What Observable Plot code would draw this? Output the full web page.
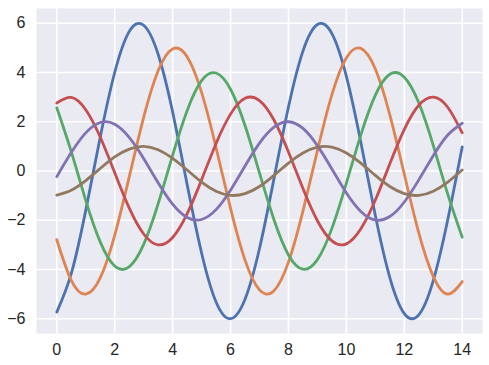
<!DOCTYPE html>
<html>
<head>
<meta charset="utf-8">
<script src="https://cdn.jsdelivr.net/npm/d3@7"></script>
<script src="https://cdn.jsdelivr.net/npm/@observablehq/plot@0.6"></script>
<style>
  html, body { margin: 0; padding: 0; background: #ffffff; }
  #chart { width: 489px; height: 365px; }
</style>
</head>
<body>
<div id="chart"></div>
<script>
const xs = [0,0.5,1,1.5,2,2.5,3,3.5,4,4.5,5,5.5,6,6.5,7,7.5,8,8.5,9,9.5,10,10.5,11,11.5,12,12.5,13,13.5,14];
const blue   = [-5.73,-4.17,-1.60,1.37,4.00,5.66,5.92,4.74,2.40,-0.54,-3.33,-5.32,-6.00,-5.21,-3.15,-0.31,2.60,4.87,5.95,5.58,3.84,1.16,-1.81,-4.33,-5.79,-5.84,-4.45,-1.98,0.98];
const orange = [-2.79,-4.44,-5.00,-4.34,-2.61,-0.25,2.18,4.07,4.96,4.64,3.19,0.95,-1.52,-3.62,-4.83,-4.86,-3.70,-1.63,0.83,3.10,4.60,4.98,4.14,2.28,-0.13,-2.51,-4.28,-5.00,-4.49];
const green  = [2.57,0.79,-1.19,-2.88,-3.86,-3.89,-2.98,-1.33,0.64,2.45,3.67,3.98,3.32,1.85,-0.08,-1.98,-3.41,-3.99,-3.60,-2.33,-0.49,1.47,3.08,3.93,3.81,2.77,1.04,-0.94,-2.69];
const red    = [2.76,2.99,2.49,1.38,-0.07,-1.50,-2.56,-3.00,-2.70,-1.74,-0.36,1.12,2.31,2.95,2.86,2.07,0.77,-0.71,-2.02,-2.84,-2.96,-2.35,-1.18,0.29,1.69,2.67,3.00,2.59,1.55];
const purple = [-0.23,0.75,1.55,1.97,1.90,1.37,0.51,-0.48,-1.35,-1.89,-1.97,-1.57,-0.78,0.20,1.13,1.78,2.00,1.73,1.03,0.08,-0.89,-1.64,-1.99,-1.85,-1.26,-0.36,0.62,1.46,1.94];
const brown  = [-0.98,-0.78,-0.39,0.10,0.57,0.89,1.00,0.86,0.51,0.04,-0.45,-0.82,-0.99,-0.92,-0.63,-0.18,0.32,0.73,0.97,0.97,0.73,0.32,-0.18,-0.63,-0.92,-0.99,-0.82,-0.45,0.04];

const seriesNames = ["s1","s2","s3","s4","s5","s6"];
const seriesValues = [blue, orange, green, red, purple, brown];
const seriesColors = ["#4C72B0","#DD8452","#55A868","#C44E52","#8172B3","#937860"];
const xTicks = [0,2,4,6,8,10,12,14];
const yTicks = [-6,-4,-2,0,2,4,6];

const data = seriesNames.flatMap((s, i) => xs.map((x, j) => ({series: s, x, y: seriesValues[i][j]})));

const chart = Plot.plot({
  width: 489,
  height: 365,
  marginLeft: 36,
  marginRight: 7,
  marginTop: 8,
  marginBottom: 32,
  style: {fontFamily: "'Liberation Sans', Arial, sans-serif", fontSize: "16px", color: "#262626", background: "#ffffff"},
  x: {domain: [-0.7, 14.7]},
  y: {domain: [-6.6, 6.6]},
  color: {domain: seriesNames, range: seriesColors},
  marks: [
    Plot.frame({fill: "#EAEAF2", stroke: null}),
    Plot.gridX(xTicks, {stroke: "#ffffff", strokeOpacity: 1, strokeWidth: 1.6}),
    Plot.gridY(yTicks, {stroke: "#ffffff", strokeOpacity: 1, strokeWidth: 1.6}),
    Plot.axisX(xTicks, {tickSize: 0, tickPadding: 10, fontSize: 16, label: null, fill: "#262626"}),
    Plot.axisY(yTicks, {tickSize: 0, tickPadding: 11, fontSize: 16, label: null, fill: "#262626", tickFormat: d => d < 0 ? "\u2212" + Math.abs(d) : String(d)}),
    Plot.line(data, {x: "x", y: "y", z: "series", stroke: "series", strokeWidth: 2.8, curve: "natural"})
  ]
});
document.getElementById("chart").appendChild(chart);
</script>
</body>
</html>
